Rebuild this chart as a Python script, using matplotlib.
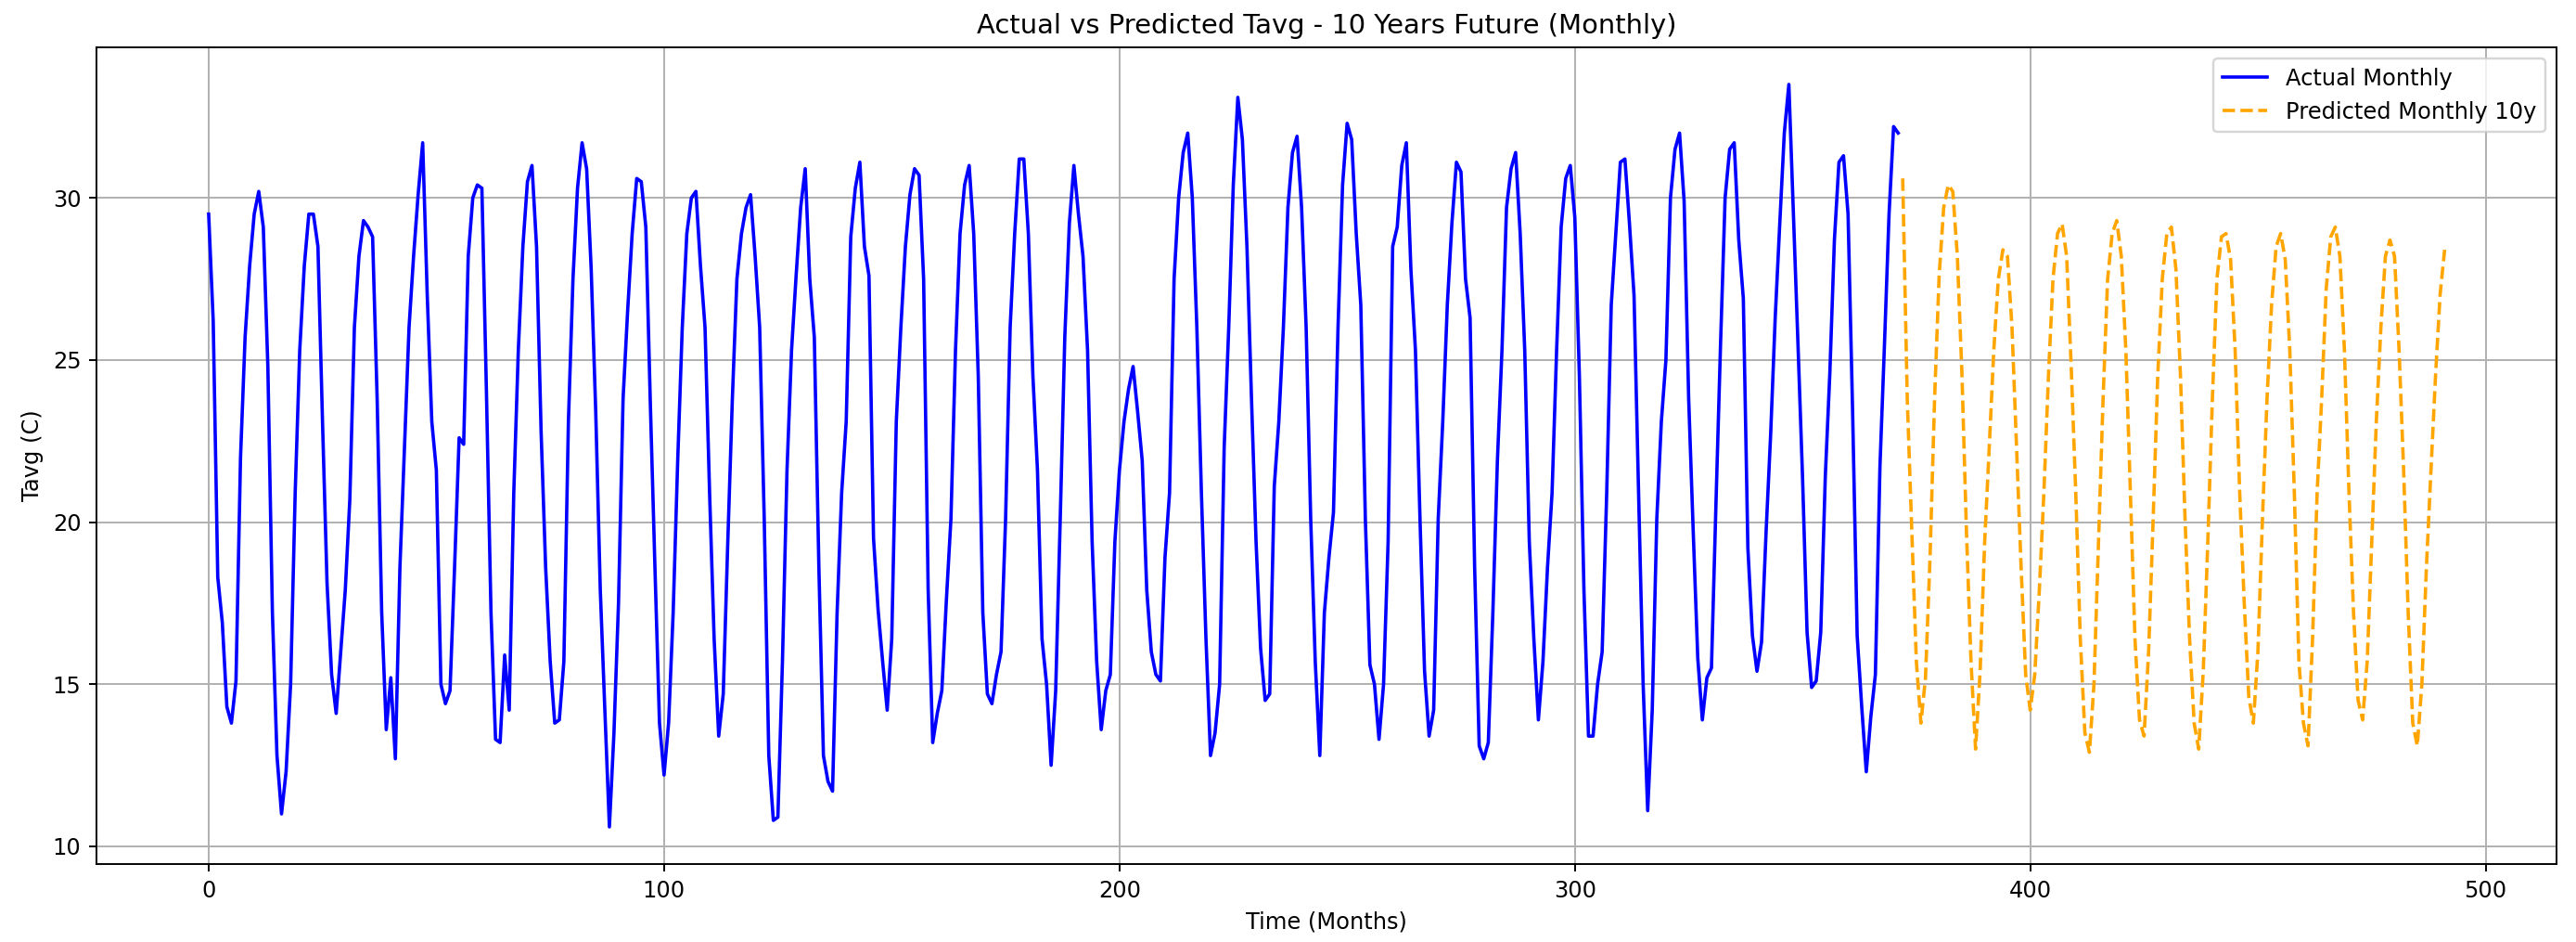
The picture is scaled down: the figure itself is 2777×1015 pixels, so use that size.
import numpy as np
import matplotlib
matplotlib.use("Agg")
from matplotlib import pyplot as plt

# Monthly average temperature (C).
actual_monthly = [
    29.5, 26.2, 18.3, 16.9, 14.3, 13.8, 15.1, 22.0, 25.7, 27.9, 29.5, 30.2,
    29.1, 24.8, 17.2, 12.8, 11.0, 12.3, 15.0, 20.9, 25.3, 27.9, 29.5, 29.5,
    28.5, 23.1, 18.1, 15.3, 14.1, 16.0, 17.9, 20.7, 26.0, 28.2, 29.3, 29.1,
    28.8, 23.8, 17.2, 13.6, 15.2, 12.7, 18.6, 22.3, 26.0, 28.2, 30.1, 31.7,
    27.0, 23.1, 21.6, 15.0, 14.4, 14.8, 18.6, 22.6, 22.4, 28.2, 30.0, 30.4,
    30.3, 24.0, 17.2, 13.3, 13.2, 15.9, 14.2, 20.9, 25.3, 28.5, 30.5, 31.0,
    28.5, 22.8, 18.6, 15.7, 13.8, 13.9, 15.7, 23.1, 27.5, 30.3, 31.7, 30.9,
    27.8, 23.4, 17.9, 14.2, 10.6, 13.5, 17.5, 23.8, 26.5, 28.9, 30.6, 30.5,
    29.1, 23.6, 18.6, 13.8, 12.2, 13.8, 17.2, 21.9, 26.0, 28.9, 30.0, 30.2,
    27.9, 26.0, 20.9, 16.4, 13.4, 14.7, 19.4, 23.8, 27.5, 28.9, 29.7, 30.1,
    28.2, 26.0, 20.1, 12.8, 10.8, 10.9, 15.7, 21.6, 25.3, 27.6, 29.7, 30.9,
    27.5, 25.7, 18.6, 12.8, 12.0, 11.7, 17.2, 20.9, 23.1, 28.8, 30.3, 31.1,
    28.5, 27.6, 19.5, 17.3, 15.7, 14.2, 16.4, 23.1, 26.0, 28.5, 30.1, 30.9,
    30.7, 27.5, 17.9, 13.2, 14.1, 14.8, 17.6, 20.1, 25.3, 28.9, 30.4, 31.0,
    28.9, 24.5, 17.2, 14.7, 14.4, 15.3, 16.0, 20.1, 26.0, 28.9, 31.2, 31.2,
    28.9, 24.5, 21.6, 16.4, 15.0, 12.5, 14.8, 20.1, 25.7, 29.2, 31.0, 29.5,
    28.2, 25.3, 19.4, 15.7, 13.6, 14.8, 15.3, 19.4, 21.6, 23.1, 24.1, 24.8,
    23.4, 21.9, 17.9, 16.0, 15.3, 15.1, 18.9, 20.9, 27.5, 30.0, 31.4, 32.0,
    30.0, 26.0, 20.9, 16.4, 12.8, 13.5, 15.0, 22.3, 26.0, 30.4, 33.1, 31.8,
    28.5, 23.8, 19.4, 16.1, 14.5, 14.7, 21.1, 23.1, 26.0, 29.7, 31.4, 31.9,
    29.7, 26.0, 20.1, 15.7, 12.8, 17.2, 18.9, 20.3, 26.0, 30.4, 32.3, 31.8,
    28.9, 26.7, 20.1, 15.6, 15.0, 13.3, 15.0, 19.4, 28.5, 29.1, 31.0, 31.7,
    27.8, 25.3, 20.1, 15.4, 13.4, 14.2, 20.1, 23.1, 26.7, 29.2, 31.1, 30.8,
    27.5, 26.3, 18.6, 13.1, 12.7, 13.2, 17.2, 21.9, 25.3, 29.7, 30.9, 31.4,
    28.9, 25.3, 19.4, 16.4, 13.9, 15.7, 18.6, 20.9, 25.3, 29.1, 30.6, 31.0,
    29.4, 24.5, 17.9, 13.4, 13.4, 15.0, 16.0, 20.9, 26.7, 28.9, 31.1, 31.2,
    29.2, 27.0, 20.9, 15.0, 11.1, 14.2, 20.1, 23.1, 25.0, 30.0, 31.5, 32.0,
    29.9, 23.8, 19.7, 15.8, 13.9, 15.2, 15.5, 20.6, 25.5, 30.0, 31.5, 31.7,
    28.7, 26.9, 19.2, 16.5, 15.4, 16.3, 19.7, 22.7, 26.3, 29.2, 32.0, 33.5,
    29.5, 25.5, 21.4, 16.6, 14.9, 15.1, 16.6, 21.4, 24.6, 28.7, 31.1, 31.3,
    29.5, 23.4, 16.5, 14.3, 12.3, 14.0, 15.3, 21.7, 25.5, 29.5, 32.2, 32.0,
]

# 10 years of predicted months following the actual series.
predicted_monthly = [
    30.6, 23.8, 19.7, 15.7, 13.8, 15.2, 18.9, 23.8, 27.6, 29.7, 30.4, 30.2,
    28.2, 24.6, 19.7, 15.7, 13.0, 15.4, 19.4, 22.3, 25.3, 27.5, 28.4, 28.2,
    26.0, 22.3, 18.6, 15.3, 14.2, 15.3, 17.9, 20.9, 24.5, 27.5, 28.9, 29.2,
    28.2, 24.8, 20.9, 16.4, 13.5, 12.9, 15.0, 19.4, 23.8, 27.5, 28.9, 29.3,
    28.2, 25.3, 20.9, 16.4, 13.9, 13.4, 16.0, 20.1, 24.5, 27.5, 28.9, 29.1,
    27.8, 24.5, 20.1, 16.4, 13.8, 13.0, 15.4, 19.4, 23.8, 27.5, 28.8, 28.9,
    28.1, 25.3, 20.9, 17.5, 14.6, 13.8, 16.0, 20.1, 23.8, 26.7, 28.5, 28.9,
    28.1, 25.3, 20.9, 15.7, 13.8, 13.1, 16.4, 20.9, 23.8, 27.2, 28.8, 29.1,
    28.2, 25.3, 20.9, 17.2, 14.5, 13.9, 15.7, 19.4, 23.1, 26.0, 28.2, 28.7,
    28.2, 25.3, 21.6, 17.2, 13.8, 13.1, 15.0, 18.6, 21.6, 24.5, 27.0, 28.4,
]

# Time axis in months: actual first, then the forecast right after it.
actual_months = np.arange(len(actual_monthly))
predicted_months = np.arange(len(actual_monthly), len(actual_monthly) + len(predicted_monthly))

dpi = 174
fig = plt.figure(figsize=(2777 / dpi, 1015 / dpi), dpi=dpi)
ax = fig.add_subplot(111)
fig.subplots_adjust(left=0.0376, right=0.9924, top=0.9498, bottom=0.0828)

ax.plot(actual_months, actual_monthly, color='blue', label="Actual Monthly")
ax.plot(predicted_months, predicted_monthly, color='orange', linestyle='--', label="Predicted Monthly 10y")
ax.set_title("Actual vs Predicted Tavg - 10 Years Future (Monthly)")
ax.set_xlabel("Time (Months)")
ax.set_ylabel("Tavg (C)")
ax.legend(loc="upper right")
ax.grid(True)

plt.savefig("out.png", dpi=dpi)
